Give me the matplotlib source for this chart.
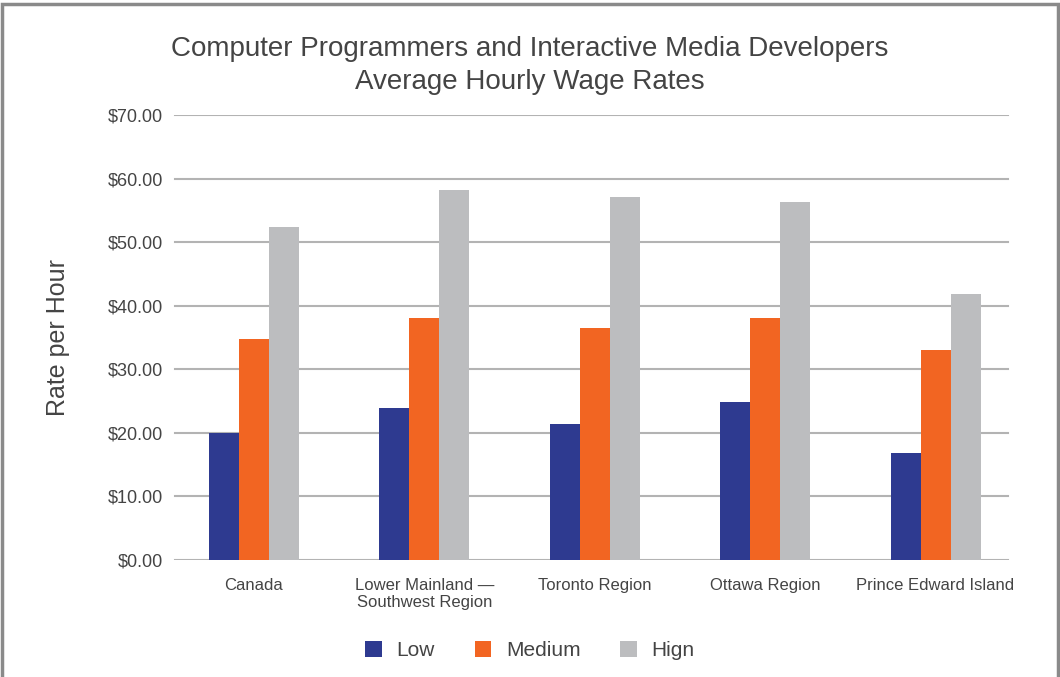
import matplotlib

matplotlib.use("Agg")
import matplotlib.pyplot as plt
import numpy as np
from matplotlib.patches import Rectangle

regions = ["Canada", "Lower Mainland \u2014\nSouthwest Region", "Toronto Region",
           "Ottawa Region", "Prince Edward Island"]
low = [20.0, 23.9, 21.4, 24.9, 16.8]
medium = [34.8, 38.1, 36.5, 38.1, 33.0]
high = [52.4, 58.2, 57.1, 56.3, 41.8]
series_names = ["Low", "Medium", "Hign"]

BLUE = "#2e3a90"
ORANGE = "#f26522"
GREY = "#bcbdbf"
TEXT = "#444444"
GRID = "#b3b3b3"

plt.rcParams.update({"font.family": ["Liberation Sans", "DejaVu Sans"]})

fig = plt.figure(figsize=(10.6, 6.77), dpi=100)
ax = fig.add_axes([0.159, 0.173, 0.804, 0.657])

x = np.arange(len(regions))
w = 0.176
ax.bar(x - w, low, width=w, color=BLUE, label=series_names[0], zorder=3)
ax.bar(x, medium, width=w, color=ORANGE, label=series_names[1], zorder=3)
ax.bar(x + w, high, width=w, color=GREY, label=series_names[2], zorder=3)

ax.set_xlim(-0.5, len(regions) - 0.5)
ax.set_ylim(0, 70)
yt = list(range(0, 71, 10))
ax.set_yticks(yt)
ax.set_yticklabels([f"${v:.2f}" for v in yt])
for v in yt:
    ax.axhline(v, xmin=0.007, xmax=0.985, color=GRID, lw=1.5, zorder=0)
ax.set_xticks(x, regions)
for s in ax.spines.values():
    s.set_visible(False)
ax.tick_params(axis="both", length=0, colors=TEXT, labelsize=12)
ax.tick_params(axis="y", pad=4, labelsize=13)
ax.tick_params(axis="x", pad=13)
ax.set_ylabel("Rate per Hour", fontsize=18, color=TEXT, labelpad=27)

fig.text(0.5, 0.903, "Computer Programmers and Interactive Media Developers\nAverage Hourly Wage Rates",
         ha="center", va="center", fontsize=20, color=TEXT, linespacing=1.35)

leg = fig.legend(loc="center", bbox_to_anchor=(0.5, 0.039), ncol=3, frameon=False,
                 fontsize=15, handlelength=0.8, handleheight=0.8, handletextpad=0.7,
                 columnspacing=1.9)
for t in leg.get_texts():
    t.set_color(TEXT)

fig.patches.append(Rectangle((0.002, -0.01), 0.996, 1.004, transform=fig.transFigure,
                             fill=False, edgecolor="#8a8a8a", lw=2.5))

fig.savefig("out.png")
